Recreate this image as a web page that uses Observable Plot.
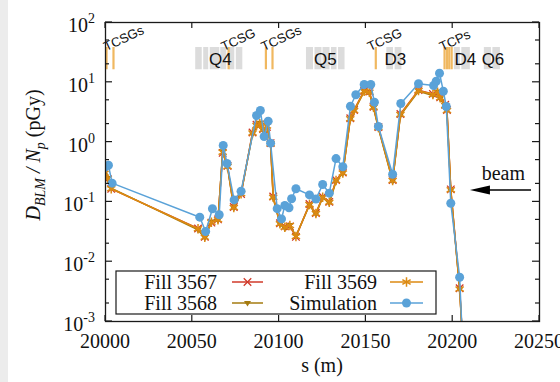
<!DOCTYPE html>
<html><head><meta charset="utf-8">
<script src="https://cdn.jsdelivr.net/npm/d3@7"></script>
<script src="https://cdn.jsdelivr.net/npm/@observablehq/plot@0.6"></script>
<style>
body{margin:0;background:#fff;}
#wrap{position:relative;width:560px;height:382px;overflow:hidden;}
#strip{position:absolute;left:0;top:0;width:8px;height:382px;background:#ececec;z-index:2;}
#chart{position:absolute;left:0;top:0;}
</style></head><body><div id="wrap"><div id="strip"></div><div id="chart"></div></div>
<script>
// ---- data ----
const sSim = [19999.4,20001.7,20003.8,20054.3,20057.7,20061.6,20065.5,20067.8,20070.0,20074.1,20078.1,20087.0,20089.2,20091.4,20093.7,20095.1,20098.9,20101.4,20103.3,20105.7,20107.2,20109.7,20117.5,20121.2,20125.1,20128.9,20132.8,20136.7,20141.1,20144.2,20149.0,20152.8,20154.9,20157.2,20165.4,20170.1,20180.3,20189.0,20190.5,20192.4,20194.6,20196.3,20198.9,20204.0,20209];
const vSim = [0.38,0.41,0.206,0.0555,0.032,0.0767,0.061,0.88,0.44,0.108,0.151,2.79,3.38,1.24,2.24,0.96,0.077,0.052,0.087,0.080,0.113,0.166,0.131,0.112,0.195,0.140,0.53,0.387,3.97,6.18,9.19,9.19,4.65,1.82,0.29,4.42,9.44,8.84,10.4,14.2,7.1,3.94,0.095,0.0055,3e-6];
const sFill = [19999.4,20001.3,20003.3,20053.3,20057.2,20061.0,20064.8,20067.5,20070.3,20073.9,20078.1,20084.7,20087.0,20088.9,20090.8,20093.0,20095.1,20096.6,20100.5,20103.3,20106.2,20109.7,20117.5,20121.2,20125.1,20128.9,20132.8,20136.7,20141.0,20143.2,20149.0,20152.0,20154.4,20157.2,20165.4,20169.9,20180.3,20188.6,20191.3,20192.8,20195.7,20196.7,20198.9,20204.0,20209];
const v3567 = [0.31,0.24,0.165,0.036,0.026,0.045,0.051,0.66,0.40,0.082,0.135,1.45,1.95,1.98,1.65,1.8,0.96,0.123,0.044,0.039,0.039,0.026,0.092,0.065,0.122,0.10,0.232,0.31,2.5,3.45,7.2,7.0,3.9,1.78,0.232,2.95,7.4,6.4,6.6,5.6,4.2,3.45,0.162,0.0036,1e-5];
const v3568 = [0.28,0.25,0.17,0.034,0.025,0.047,0.049,0.70,0.38,0.078,0.14,1.35,1.85,2.1,1.55,1.9,0.9,0.115,0.042,0.036,0.041,0.027,0.088,0.062,0.118,0.095,0.22,0.30,2.4,3.3,7.0,6.6,3.7,1.7,0.22,2.8,7.1,6.0,7.0,5.3,4.0,3.3,0.155,0.0034,1e-5];
const v3569 = [0.30,0.243,0.166,0.0355,0.0257,0.0458,0.0502,0.678,0.391,0.0805,0.137,1.42,1.90,2.02,1.62,1.86,0.94,0.12,0.043,0.0378,0.0403,0.0264,0.0906,0.064,0.12,0.0989,0.228,0.304,2.45,3.38,7.1,6.83,3.83,1.75,0.228,2.90,7.29,6.25,6.83,5.5,4.09,3.38,0.159,0.0035,1e-5];

const xTicks = [20000,20050,20100,20150,20200,20250];
const yTicks = [1e-3,1e-2,1e-1,1,10,100];
const yExp = ["-3","-2","-1","0","1","2"];

// element layout band
const grayStart = [20051.96,20056.58,20060.33,20066.40,20071.30,20075.35,20115.76,20120.67,20125.29,20130.20,20134.24,20162.07,20166.86,20200.92,20205.25,20218.24,20223.16];
const grayEnd   = [20055.72,20059.47,20065.82,20069.86,20074.48,20079.10,20119.80,20124.71,20129.33,20133.37,20137.99,20165.88,20170.73,20204.39,20210.16,20222.29,20227.48];
const collPos = [20000.6,20004.6,20070.9,20092.4,20096.2,20155.7,20195.3,20196.7,20198.0,20199.4];
const regionNames = ["Q4","Q5","D3","D4","Q6"];
const regionPos = [20066.1,20126.7,20166.9,20207.3,20223.2];
const collNames = ["TCSGs","TCSG","TCSGs","TCSG","TCPs"];
const collLabelPos = [20000.4,20068.1,20091.2,20152.4,20193.8];

const seriesNames = ["Fill 3567","Fill 3568","Fill 3569","Simulation"];
const colors = ["#d03a2a","#a57b10","#dc8a12","#5aa2d8"];

const triDown = {draw(ctx, size){ const h = Math.sqrt(size)*0.62; ctx.moveTo(-h,-h*0.6); ctx.lineTo(h,-h*0.6); ctx.lineTo(0,h*1.0); ctx.closePath(); }};

const idxF = d3.range(sFill.length), idxS = d3.range(sSim.length);
const bandLo = 16.2, bandHi = 38.2;

const plot = Plot.plot({
  width: 560, height: 382,
  marginLeft: 105, marginRight: 21, marginTop: 22, marginBottom: 61,
  style: {fontFamily: "'Liberation Serif', serif", fontSize: "20px", background: "transparent"},
  x: {domain: [20000, 20250], axis: null},
  y: {type: "log", domain: [1e-3, 1e2], axis: null},
  marks: [
    Plot.rect(d3.range(grayStart.length), {x1: i => grayStart[i], x2: i => grayEnd[i], y1: () => bandLo, y2: () => bandHi, fill: "#dcdcdc"}),
    Plot.ruleX(collPos, {x: d => d, y1: () => bandLo, y2: () => bandHi, stroke: "#f0b860", strokeWidth: 2.2}),
    Plot.text(regionNames, {x: (d,i) => regionPos[i], y: () => 24, text: d => d, fontFamily: "'Liberation Sans', sans-serif", fontSize: 17, fill: "#111"}),
    Plot.text(collNames, {x: (d,i) => collLabelPos[i], y: () => 33, text: d => d, rotate: -25, textAnchor: "start", lineAnchor: "bottom", fontFamily: "'Liberation Sans', sans-serif", fontSize: 13, fill: "#111"}),
    Plot.text(["beam"], {x: () => 20229.2, y: () => 0.3, text: d => d, fontSize: 20, fill: "#111"}),
    Plot.line(idxF, {x: i => sFill[i], y: i => v3567[i], stroke: colors[0], strokeWidth: 1.5, clip: true}),
    Plot.dot(idxF, {x: i => sFill[i], y: i => v3567[i], symbol: "times", stroke: colors[0], r: 3.5, strokeWidth: 1.3, clip: true}),
    Plot.line(idxF, {x: i => sFill[i], y: i => v3568[i], stroke: colors[1], strokeWidth: 1.5, clip: true}),
    Plot.dot(idxF, {x: i => sFill[i], y: i => v3568[i], symbol: triDown, fill: colors[1], r: 3.2, clip: true}),
    Plot.line(idxF, {x: i => sFill[i], y: i => v3569[i], stroke: colors[2], strokeWidth: 1.5, clip: true}),
    Plot.dot(idxF, {x: i => sFill[i], y: i => v3569[i], symbol: "asterisk", stroke: colors[2], r: 4.5, strokeWidth: 1.5, clip: true}),
    Plot.line(idxS, {x: i => sSim[i], y: i => vSim[i], stroke: colors[3], strokeWidth: 1.5, clip: true}),
    Plot.dot(idxS, {x: i => sSim[i], y: i => vSim[i], fill: colors[3], r: 4.5, clip: true}),
    Plot.frame({stroke: "#1a1a1a", strokeWidth: 1.3})
  ]
});
document.getElementById("chart").append(plot);

// ---- post-processing: ticks, labels, legend, arrow ----
const X = plot.scale("x"), Y = plot.scale("y");
const svg = d3.select(plot);
const L = X.apply(20000), R = X.apply(20250), T = Y.apply(100), B = Y.apply(1e-3);
const g = svg.append("g").attr("stroke", "#1a1a1a").attr("stroke-width", 1.2);
xTicks.forEach(t => {
  const x = X.apply(t);
  g.append("line").attr("x1", x).attr("x2", x).attr("y1", B).attr("y2", B - 6);
  g.append("line").attr("x1", x).attr("x2", x).attr("y1", T).attr("y2", T + 6);
});
yTicks.forEach((t, k) => {
  const y = Y.apply(t);
  g.append("line").attr("x1", L).attr("x2", L + 7).attr("y1", y).attr("y2", y);
  g.append("line").attr("x1", R).attr("x2", R - 7).attr("y1", y).attr("y2", y);
  if (k < yTicks.length - 1) [2, 5].forEach(m => {
    const ym = Y.apply(t * m);
    g.append("line").attr("x1", L).attr("x2", L + 4).attr("y1", ym).attr("y2", ym);
    g.append("line").attr("x1", R).attr("x2", R - 4).attr("y1", ym).attr("y2", ym);
  });
});
const tf = svg.append("g").attr("font-family", "'Liberation Serif', serif").attr("fill", "#111");
xTicks.forEach(t => {
  tf.append("text").attr("x", X.apply(t)).attr("y", B + 27).attr("text-anchor", "middle").attr("font-size", 20).text(String(t));
});
yTicks.forEach((t, k) => {
  const tx = tf.append("text").attr("x", L - 10).attr("y", Y.apply(t) + 10).attr("text-anchor", "end").attr("font-size", 20);
  tx.append("tspan").text("10");
  tx.append("tspan").attr("dy", -9).attr("font-size", 14).text(yExp[k]);
});
tf.append("text").attr("x", (L + R) / 2).attr("y", B + 51).attr("text-anchor", "middle").attr("font-size", 20).text("s (m)");
const yl = tf.append("text").attr("transform", "translate(40,155) rotate(-90)").attr("text-anchor", "middle").attr("font-size", 20);
yl.append("tspan").attr("font-style", "italic").text("D");
yl.append("tspan").attr("font-style", "italic").attr("font-size", 14).attr("dy", 5).text("BLM");
yl.append("tspan").attr("font-style", "italic").attr("dy", -5).text(" / N");
yl.append("tspan").attr("font-style", "italic").attr("font-size", 14).attr("dy", 5).text("p");
yl.append("tspan").attr("dy", -5).text(" (pGy)");

// beam arrow
const ay = Y.apply(0.155), ax1 = X.apply(20245.4), ax2 = X.apply(20210.2);
svg.append("line").attr("x1", ax1).attr("x2", ax2 + 18).attr("y1", ay).attr("y2", ay).attr("stroke", "#000").attr("stroke-width", 1.5);
svg.append("path").attr("d", `M${ax2},${ay} L${ax2 + 20},${ay - 4.5} L${ax2 + 20},${ay + 4.5} Z`).attr("fill", "#000");

// legend
const lg = svg.append("g");
lg.append("rect").attr("x", 116).attr("y", 271).attr("width", 320).attr("height", 43).attr("fill", "#fff").attr("stroke", "#1a1a1a").attr("stroke-width", 1.2);
const legPos = [[217, 232, 263, 282], [217, 232, 263, 303], [377, 390, 423, 282], [377, 390, 423, 303]];
const legSym = [d3.symbolTimes, triDown, d3.symbolAsterisk, d3.symbolCircle];
const legR = [3.5, 3.2, 4.5, 4.5];
seriesNames.forEach((n, i) => {
  const [tx, l1, l2, y] = legPos[i];
  lg.append("text").attr("x", tx).attr("y", y + 7).attr("text-anchor", "end").attr("font-family", "'Liberation Serif', serif").attr("font-size", 20).attr("fill", "#111").text(n);
  lg.append("line").attr("x1", l1).attr("x2", l2).attr("y1", y).attr("y2", y).attr("stroke", colors[i]).attr("stroke-width", 1.5);
  const p = lg.append("path").attr("transform", `translate(${(l1 + l2) / 2},${y})`).attr("d", d3.symbol(legSym[i], Math.PI * legR[i] * legR[i])());
  if (i === 0 || i === 2) p.attr("fill", "none").attr("stroke", colors[i]).attr("stroke-width", i === 0 ? 1.3 : 1.5);
  else p.attr("fill", colors[i]);
});
</script></body></html>
